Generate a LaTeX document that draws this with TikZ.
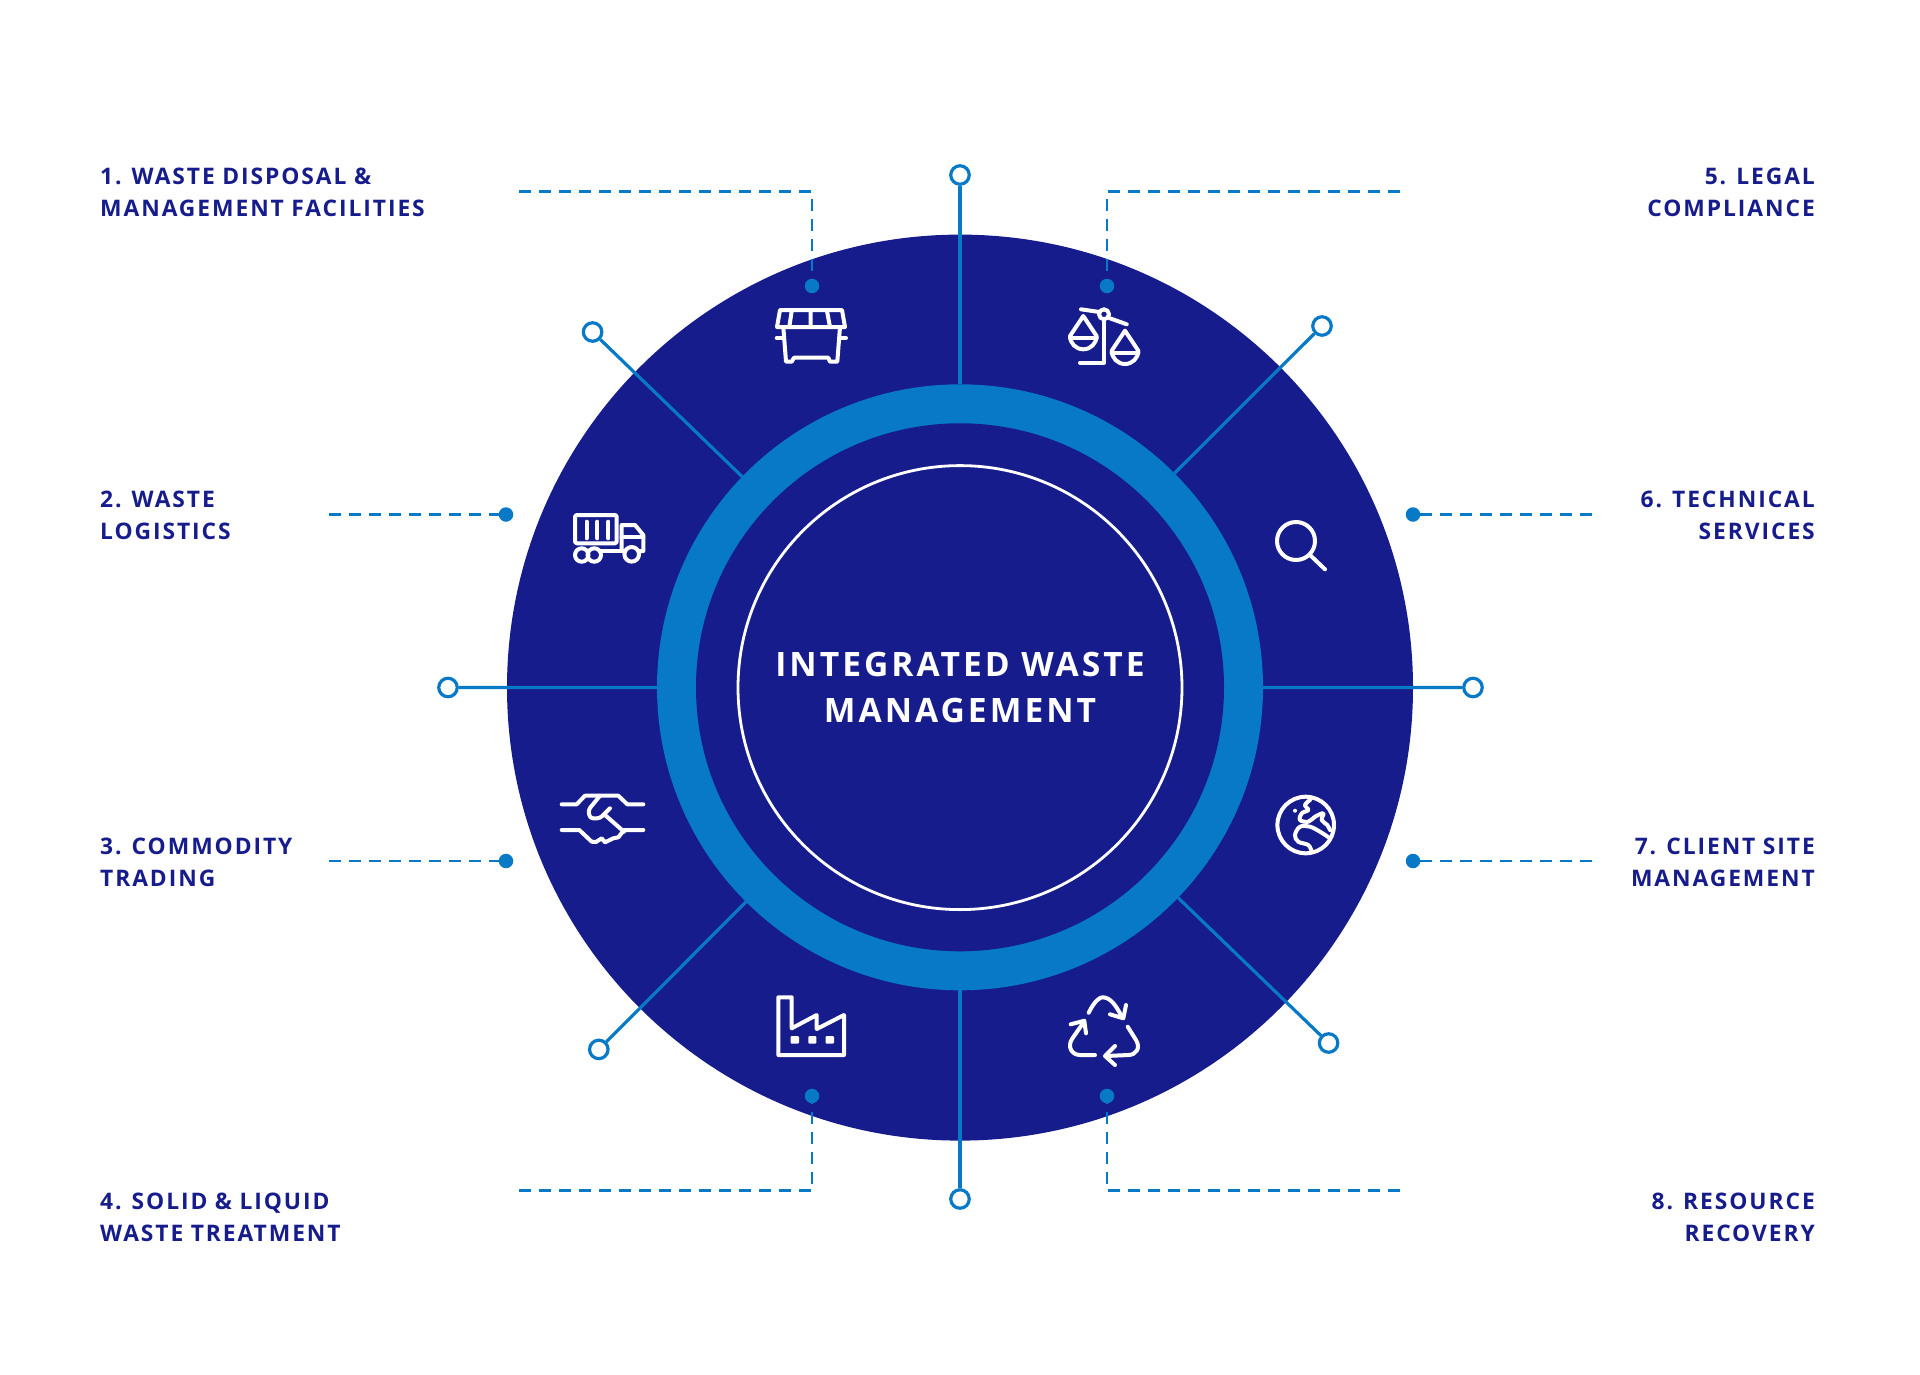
\documentclass[tikz,border=0pt]{standalone}
\usepackage{fontspec}
\setmainfont{Open Sans}
\newfontfamily\tagfont{Open Sans}[LetterSpace=8.5,WordSpace=0.95]
\newfontfamily\hubfont{Open Sans}[LetterSpace=9]
\definecolor{navy}{HTML}{161C8B}
\definecolor{skyblue}{HTML}{0779C6}
\tikzset{
  disc/.style={circle,inner sep=0pt,outer sep=0pt},
  pin/.style={circle,draw=skyblue,fill=white,line width=3.2pt,minimum size=18.5pt,inner sep=0pt},
  dot/.style={circle,fill=skyblue,minimum size=14.5pt,inner sep=0pt,outer sep=0pt},
  spoke/.style={draw=skyblue,line width=3.2pt},
  leader/.style={draw=skyblue,line width=2.2pt,dash pattern=on 12pt off 8pt},
  tagl/.style={anchor=west,align=left,text=navy,font=\tagfont\bfseries\fontsize{22.8pt}{32pt}\selectfont,inner sep=0pt},
  tagr/.style={anchor=east,align=right,text=navy,font=\tagfont\bfseries\fontsize{22.8pt}{32pt}\selectfont,inner sep=0pt},
  glyph/.style={draw=white,line width=4pt,line cap=round,line join=round}
}
\begin{document}
\begin{tikzpicture}[x=1pt,y=-1pt]
  \useasboundingbox (0,0) rectangle (1920,1374);
  \node[disc,fill=navy,minimum size=906pt] (disk) at (960,687.6) {};
  \draw
    (960,175) node[pin] (pintop){}
    (1322,326) node[pin] (pintr){}
    (1473,687.5) node[pin] (pinright){}
    (1328.6,1043) node[pin] (pinbr){}
    (960,1199) node[pin] (pinbottom){}
    (598.8,1049.4) node[pin] (pinbl){}
    (448,687.5) node[pin] (pinleft){}
    (592.6,332) node[pin] (pintl){};
  \node[disc,fill=skyblue,minimum size=606pt] (ring) at (960,687.3) {};
  \node[disc,fill=navy,minimum size=528pt] (hub) at (960,687.3) {};
  \node[disc,draw=white,line width=2.8pt,minimum size=444pt,align=center,text=white,
    font=\hubfont\bfseries\fontsize{33.6pt}{46pt}\selectfont] (core) at (960,687.6) {INTEGRATED WASTE\\MANAGEMENT};
  \begin{scope}[spoke]
    \draw (pintop) to (ring);
    \draw (pintr) to (ring);
    \draw (pinright) to (ring);
    \draw (pinbr) to (ring);
    \draw (pinbottom) to (ring);
    \draw (pinbl) to (ring);
    \draw (pinleft) to (ring);
    \draw (pintl) to (ring);
  \end{scope}
  \draw
    (812,286) node[dot] (dot1){}
    (506,514.5) node[dot] (dot2){}
    (506,861) node[dot] (dot3){}
    (812,1096) node[dot] (dot4){}
    (1107,286) node[dot] (dot5){}
    (1413,514.5) node[dot] (dot6){}
    (1413,861) node[dot] (dot7){}
    (1107,1096) node[dot] (dot8){};
  \coordinate (end1) at (519,191.5);
  \coordinate (bend1) at (812,191.5);
  \coordinate (end2) at (329,514.5);
  \coordinate (end3) at (329,861);
  \coordinate (end4) at (519,1190.5);
  \coordinate (bend4) at (812,1190.5);
  \coordinate (end5) at (1400,191.5);
  \coordinate (bend5) at (1107,191.5);
  \coordinate (end6) at (1592,514.5);
  \coordinate (end7) at (1592,861);
  \coordinate (end8) at (1400,1190.5);
  \coordinate (bend8) at (1107,1190.5);
  \begin{scope}[leader]
    \draw (end1) -- (bend1) -- (dot1);
    \draw (end2) -- (dot2);
    \draw (end3) -- (dot3);
    \draw (end4) -- (bend4) -- (dot4);
    \draw (end5) -- (bend5) -- (dot5);
    \draw (end6) -- (dot6);
    \draw (end7) -- (dot7);
    \draw (end8) -- (bend8) -- (dot8);
  \end{scope}
  \node[tagl] (tag1) at (100,192.1) {1. WASTE DISPOSAL \&\\MANAGEMENT FACILITIES};
  \node[tagl] (tag2) at (100,515.1) {2. WASTE\\LOGISTICS};
  \node[tagl] (tag3) at (100,862.1) {3. COMMODITY\\TRADING};
  \node[tagl] (tag4) at (100,1217) {4. SOLID \& LIQUID\\WASTE TREATMENT};
  \node[tagr] (tag5) at (1815,192.1) {5. LEGAL\\COMPLIANCE};
  \node[tagr] (tag6) at (1815,515.1) {6. TECHNICAL\\SERVICES};
  \node[tagr] (tag7) at (1815,862.1) {7. CLIENT SITE\\MANAGEMENT};
  \node[tagr] (tag8) at (1815,1217) {8. RESOURCE\\RECOVERY};
  \begin{scope}[glyph]
    \draw (780,310) -- (842,310) -- (845,327) -- (777,327) -- cycle;
    \draw (791.7,311) -- (789.3,327) (810.7,310) -- (810.7,327) (827,311) -- (830,327);
    \draw (783.3,327) -- (786,361.7) -- (791.7,361.7) -- (794,357.7) -- (828.3,357.7) -- (830,361.7) -- (837.3,361.7) -- (840,327);
    \draw (776.7,338) -- (783.3,338) (840,338) -- (846,338);
    \draw (1104,314.3) circle[radius=5pt];
    \draw (1081,309.3) -- (1099.3,312) (1110,318.3) -- (1126.7,324.3);
    \draw (1104,320) -- (1104,362.7) -- (1080,362.7);
    \draw (1083.3,316) -- (1070,336) arc (180:360:13.3pt) -- cycle;
    \draw (1070,338) -- (1096.7,338);
    \draw (1125,330.7) -- (1111.7,350.7) arc (180:360:13.3pt) -- cycle;
    \draw (1111.7,352.7) -- (1138.3,352.7);
    \draw[rounded corners=2pt] (575,515) rectangle (616.7,543.3);
    \draw (586.7,521.7) -- (586.7,538.3) (597.3,521.7) -- (597.3,538.3) (608.3,521.7) -- (608.3,538.3);
    \draw (581.7,555) circle[radius=6.7pt] (594.3,555) circle[radius=6.7pt] (631.7,554.3) circle[radius=7.3pt];
    \draw (600,551) -- (625,551);
    \draw (621.7,551) -- (621.7,525) -- (635,525) -- (643.3,535) -- (643.3,551) -- (638.3,551);
    \draw (621.7,537.3) -- (643.3,537.3);
    \draw (1296,541) circle[radius=19pt];
    \draw (1310,555) -- (1325,569.3);
    \draw (1305.7,825) circle[radius=28.3pt];
    \draw plot[smooth,tension=.6] coordinates {(1310,800) (1305,805) (1308.3,810) (1301.7,813.3) (1300,820) (1308.3,821.7) (1315,816.7) (1323.3,813.3) (1321.7,820) (1327.3,825) (1330,830)};
    \draw plot[smooth,tension=.6] coordinates {(1330,838.3) (1320,831.7) (1310,826.7) (1300,826.7) (1295,835) (1298.3,841.7) (1308.3,845) (1311.7,851.7)};
    \fill[white] (1295,810.7) circle[radius=2pt];
    \draw (561.7,804.3) -- (576.7,804.3) -- (585,795.7) -- (618.3,795.7) -- (627.3,804.3) -- (643.3,804.3);
    \draw (561.7,830) -- (579.3,830) -- (591.7,841.7) -- (596,842) -- (601.7,838.3) -- (605,842.3) -- (613.3,838.3) -- (618.3,837.3) -- (624,830) -- (643.3,830);
    \draw[rounded corners=3pt] (600,795.7) -- (588.3,810) -- (590,818.3) -- (600,818.3) -- (610,808.3);
    \draw (605,815) -- (624,831.7);
    \draw (778.3,997.3) -- (791.7,997.3) -- (791.7,1028.3) -- (816.7,1015) -- (816.7,1029) -- (844,1015) -- (844,1055) -- (778.3,1055) -- cycle;
    \fill[white,rounded corners=1pt] (790.7,1036) rectangle (799,1043.7) (808.3,1036) rectangle (816.3,1043.7) (825.7,1036) rectangle (834,1043.7);
    \draw (1088.7,1012.7) .. controls (1095,1000) and (1100,997.3) .. (1102.7,997.3) .. controls (1110,997.3) and (1116,1005) .. (1121.7,1016.7);
    \draw (1110,1014.3) -- (1123.3,1018.3) -- (1126,1005);
    \draw (1095,1055) -- (1080,1055) .. controls (1072,1055) and (1067,1047) .. (1072,1039) -- (1084,1021.7);
    \draw (1070.7,1024.3) -- (1084.3,1020.7) -- (1086,1033.3);
    \draw (1127.7,1026.7) -- (1136,1040) .. controls (1141,1048) and (1136,1055) .. (1128.3,1055) -- (1106,1056);
    \draw (1115,1046) -- (1105,1056) -- (1115,1065);
  \end{scope}
\end{tikzpicture}
\end{document}
